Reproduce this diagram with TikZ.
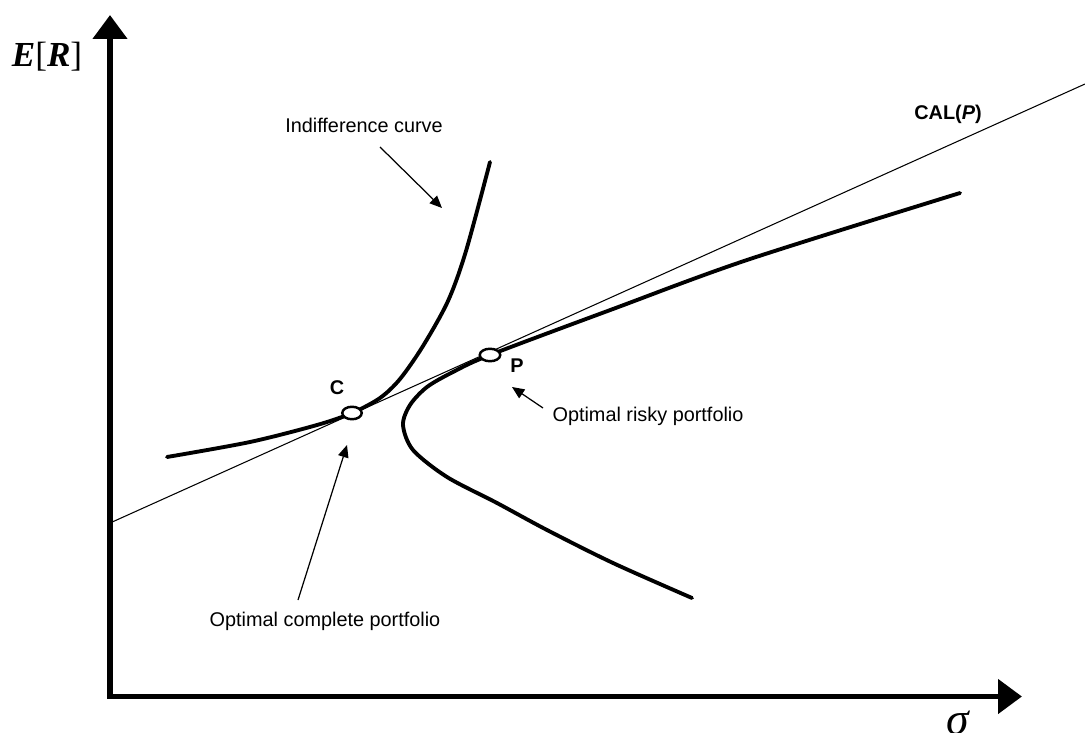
\documentclass[tikz,border=0pt]{standalone}
\usepackage{fontspec}
\setmainfont{Liberation Sans}
\newfontfamily\timesfont{Liberation Serif}
\usetikzlibrary{arrows.meta,shapes.geometric}

\begin{document}
\begin{tikzpicture}[x=0.02cm,y=-0.02cm,
  axis/.style={line width=3.4pt,{Triangle[length=13.6pt,width=19pt]}-{Triangle[length=13.6pt,width=19pt]}},
  curve/.style={line width=2.2pt,line cap=round,line join=round},
  calline/.style={line width=0.6pt},
  note/.style={line width=0.7pt,-{Triangle[length=7pt,width=6pt]}},
  lbl/.style={anchor=base,inner sep=0pt,font=\fontsize{11.3}{13.6}\selectfont},
  blbl/.style={lbl,font=\fontsize{11.3}{13.6}\selectfont\bfseries},
  portf/.style={ellipse,draw,fill=white,line width=1.4pt,inner sep=0pt,minimum width=0.39cm,minimum height=0.25cm}]
 \useasboundingbox (0,0) rectangle (1085,733);
 % axes
 \coordinate (ytip) at (110,15);
 \coordinate (xtip) at (1022,696.5);
 \coordinate (orig) at (110,696.5);
 \draw[axis] (ytip) -- (orig) -- (xtip);
 \node[anchor=base,inner sep=0pt] (er) at (47,67) {\timesfont\fontsize{20}{24}\selectfont\textbf{\textit{E}}[\textbf{\textit{R}}]};
 \node[anchor=base,inner sep=0pt] (sig) at (958,734) {\timesfont\fontsize{26}{30}\selectfont\textit{σ}};
 % capital allocation line
 \coordinate (calstart) at (110,523);
 \coordinate (calend) at (1085,84);
 \draw[calline] (calstart) -- (calend);
 % portfolios
 \coordinate (c) at (352,413);
 \coordinate (p) at (490,355);
 % indifference curve
 \draw[curve] plot[smooth] coordinates {(167,457) (250,442) (317,425) (c) (380,398) (400,379) (423,346) (448,301) (466,251) (490,162)};
 % frontier
 \draw[curve] plot[smooth] coordinates {(692,598) (613,563) (547,530) (497,503) (447,477) (413,450) (403,425) (410,405) (427,387) (453,372) (p) (613,309) (747,260) (960,193)};
 \node[portf] (cdot) at (c) {};
 \node[portf,minimum width=0.41cm] (pdot) at (p) {};
 \node[blbl] (clab) at (337,394) {C};
 \node[blbl] (plab) at (517,372) {P};
 \node[blbl] (cal) at (948,120) {CAL(\textit{P})};
 % notes
 \node[lbl] (icurve) at (364,133) {Indifference curve};
 \node[lbl] (risky) at (648,421) {Optimal risky portfolio};
 \node[lbl] (complete) at (325,626) {Optimal complete portfolio};
 \coordinate (itail) at (380,147);
 \coordinate (ihead) at (442,208);
 \coordinate (rtail) at (543,408);
 \coordinate (rhead) at (512,387);
 \coordinate (ctail) at (298,600);
 \coordinate (chead) at (347,445);
 \draw[note] (itail) -- (ihead);
 \draw[note] (rtail) -- (rhead);
 \draw[note] (ctail) -- (chead);
\end{tikzpicture}
\end{document}
